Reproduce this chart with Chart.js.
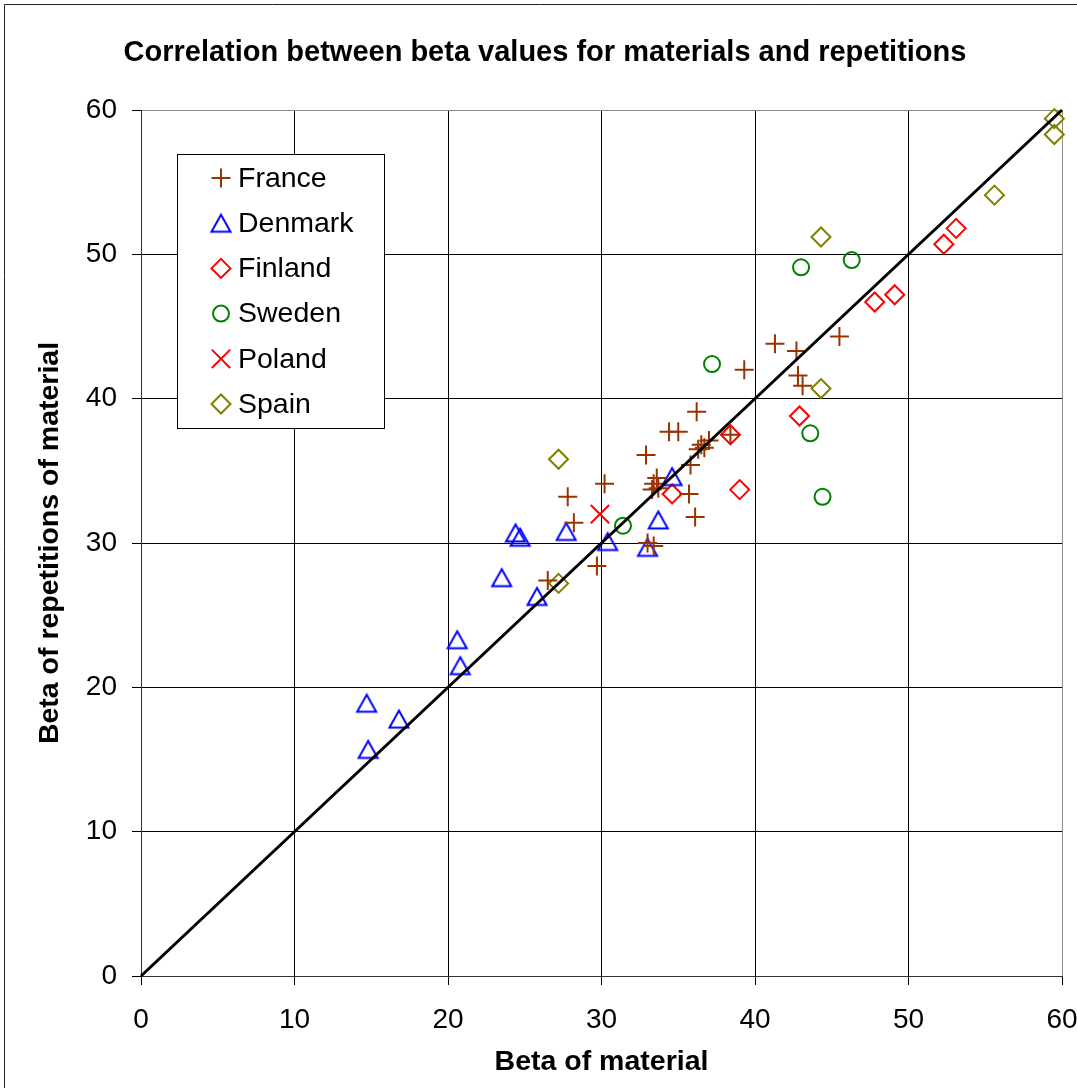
<!DOCTYPE html>
<html>
<head>
<meta charset="utf-8">
<script src="https://cdn.jsdelivr.net/npm/chart.js@4/dist/chart.umd.min.js"></script>
<style>
  html, body { margin: 0; padding: 0; background: #fff; }
  #wrap { position: relative; width: 1077px; height: 1088px; }
  canvas { display: block; }
</style>
</head>
<body>
<div id="wrap"><canvas id="c" width="1077" height="1088"></canvas></div>
<script>
// Beta values: [beta of material, beta of repetitions of material]
const france = [
  [26.5, 27.4], [27.8, 33.2], [28.2, 31.4], [29.7, 28.4], [30.2, 34.1],
  [32.9, 36.1], [33.0, 30.0], [33.4, 29.8], [33.6, 34.5], [33.4, 34.1],
  [33.7, 33.8], [33.3, 33.7], [34.4, 37.7], [35.0, 37.7], [35.7, 33.4],
  [35.8, 35.4], [36.1, 31.8], [36.2, 39.1], [36.3, 36.5], [36.5, 36.8],
  [36.7, 36.6], [37.0, 37.1], [38.4, 37.5], [39.3, 42.0], [41.3, 43.8],
  [42.7, 43.3], [42.8, 41.6], [43.1, 40.9], [45.5, 44.3]
];
const denmark = [
  [14.7, 18.9], [14.8, 15.7], [16.8, 17.8], [20.6, 23.3], [20.8, 21.5],
  [23.5, 27.6], [24.4, 30.7], [24.7, 30.4], [25.8, 26.3], [27.7, 30.8],
  [30.4, 30.1], [33.0, 29.7], [33.7, 31.6], [34.6, 34.6]
];
const finland = [
  [34.6, 33.4], [38.4, 37.5], [39.0, 33.7], [42.9, 38.8],
  [47.8, 46.7], [49.1, 47.2], [52.3, 50.7], [53.1, 51.8]
];
const sweden = [
  [31.4, 31.2], [37.2, 42.4], [43.0, 49.1], [43.6, 37.6], [44.4, 33.2], [46.3, 49.6]
];
const poland = [
  [29.9, 32.0]
];
const spain = [
  [27.2, 35.8], [27.2, 27.2], [44.3, 40.7], [44.3, 51.2],
  [55.6, 54.1], [59.5, 58.3], [59.5, 59.4]
];
// reference line y = x
const identityLine = [[0, 0], [60, 60]];

const axisTicks = [0, 10, 20, 30, 40, 50, 60];

const chartTitle = 'Correlation between beta values for materials and repetitions';

const FONT = '"Liberation Sans", Arial, sans-serif';

const toPoints = arr => arr.map(([x, y]) => ({ x, y }));

// Hollow triangle centred on its bounding box
function triangleMarker(color) {
  const c = document.createElement('canvas');
  c.width = 24; c.height = 24;
  const g = c.getContext('2d');
  const w = 19, h = 17;
  g.strokeStyle = color;
  g.lineWidth = 2;
  g.lineJoin = 'miter';
  g.beginPath();
  g.moveTo(12, 12 - h / 2);
  g.lineTo(12 + w / 2, 12 + h / 2);
  g.lineTo(12 - w / 2, 12 + h / 2);
  g.closePath();
  g.stroke();
  return c;
}

function marker(label, data, color, style, radius) {
  return {
    label,
    data: toPoints(data),
    borderColor: color,
    backgroundColor: 'rgba(0,0,0,0)',
    pointStyle: style,
    pointRadius: radius,
    pointHoverRadius: radius,
    pointBorderWidth: 2,
    showLine: false,
    clip: false
  };
}

const datasets = [
  {
    label: 'y = x',
    data: toPoints(identityLine),
    borderColor: '#000',
    borderWidth: 3,
    pointRadius: 0,
    showLine: true,
    clip: false,
    inLegend: false
  },
  marker('France', france, '#993300', 'cross', 9.5),
  marker('Denmark', denmark, '#0000FF', triangleMarker('#0000FF'), 11),
  marker('Finland', finland, '#FF0000', 'rectRot', 9.5),
  marker('Sweden', sweden, '#008000', 'circle', 8),
  marker('Poland', poland, '#FF0000', 'crossRot', 13),
  marker('Spain', spain, '#808000', 'rectRot', 9.5)
];

// Page frame and title
const framePlugin = {
  id: 'frame',
  beforeDraw(chart) {
    const ctx = chart.ctx;
    ctx.save();
    ctx.fillStyle = '#fff';
    ctx.fillRect(0, 0, chart.width, chart.height);
    ctx.strokeStyle = '#222';
    ctx.lineWidth = 1;
    ctx.beginPath();
    ctx.moveTo(4.5, chart.height);
    ctx.lineTo(4.5, 4.5);
    ctx.lineTo(chart.width, 4.5);
    ctx.stroke();
    ctx.fillStyle = '#000';
    ctx.font = 'bold 29px ' + FONT;
    ctx.textAlign = 'center';
    ctx.textBaseline = 'middle';
    ctx.fillText(chartTitle, 545, 53);
    ctx.restore();
  }
};

// Boxed legend inside the plot area
const boxLegend = {
  id: 'boxLegend',
  afterDraw(chart) {
    const ctx = chart.ctx;
    const box = { x: 177.5, y: 154.5, w: 207, h: 274 };
    ctx.save();
    ctx.fillStyle = '#fff';
    ctx.fillRect(box.x, box.y, box.w, box.h);
    ctx.strokeStyle = '#000';
    ctx.lineWidth = 1;
    ctx.strokeRect(box.x, box.y, box.w, box.h);
    const entries = chart.data.datasets.filter(d => d.inLegend !== false);
    const rowStart = 178, rowStep = 45.2;
    entries.forEach((ds, i) => {
      const y = rowStart + i * rowStep;
      ctx.strokeStyle = ds.borderColor;
      ctx.fillStyle = 'rgba(0,0,0,0)';
      ctx.lineWidth = ds.pointBorderWidth;
      Chart.helpers.drawPoint(ctx, {
        pointStyle: ds.pointStyle,
        radius: ds.pointRadius,
        rotation: 0,
        borderWidth: ds.pointBorderWidth
      }, 221, y);
      ctx.fillStyle = '#000';
      ctx.font = '28.5px ' + FONT;
      ctx.textAlign = 'left';
      ctx.textBaseline = 'middle';
      ctx.fillText(ds.label, 238, y + 1);
    });
    ctx.restore();
  }
};

function gridColor(ctx) {
  if (ctx.tick.value === 60) return '#8c8c8c';
  if (ctx.tick.value === 0) return '#333';
  return '#000';
}

new Chart(document.getElementById('c'), {
  type: 'scatter',
  data: { datasets },
  options: {
    responsive: false,
    animation: false,
    events: [],
    layout: { padding: { top: 110, right: 14, bottom: 0, left: 0 } },
    plugins: {
      legend: { display: false },
      tooltip: { enabled: false },
      title: { display: false }
    },
    scales: {
      x: {
        type: 'linear',
        min: 0, max: 60,
        afterBuildTicks: s => { s.ticks = axisTicks.map(v => ({ value: v })); },
        afterFit: s => { s.height = 112; s.paddingLeft = 0; s.paddingRight = 0; },
        ticks: {
          color: '#000',
          padding: 18,
          font: { family: FONT, size: 28 },
          maxRotation: 0
        },
        grid: { color: gridColor, lineWidth: 1, tickLength: 9, tickColor: '#000' },
        border: { display: true, color: '#333', width: 1 },
        title: {
          display: true,
          text: 'Beta of material',
          color: '#000',
          font: { family: FONT, size: 28.5, weight: 'bold', lineHeight: 1.2 },
          padding: { top: 0, bottom: 9 }
        }
      },
      y: {
        type: 'linear',
        min: 0, max: 60,
        afterBuildTicks: s => { s.ticks = axisTicks.map(v => ({ value: v })); },
        afterFit: s => { s.width = 141; s.paddingTop = 0; s.paddingBottom = 0; },
        ticks: {
          color: '#000',
          padding: 15,
          font: { family: FONT, size: 28 }
        },
        grid: { color: gridColor, lineWidth: 1, tickLength: 9, tickColor: '#000' },
        border: { display: true, color: '#333', width: 1 },
        title: {
          display: true,
          text: 'Beta of repetitions of material',
          color: '#000',
          font: { family: FONT, size: 28.5, weight: 'bold', lineHeight: 1.2 },
          padding: { top: 33, bottom: 0 }
        }
      }
    }
  },
  plugins: [framePlugin, boxLegend]
});
</script>
</body>
</html>
